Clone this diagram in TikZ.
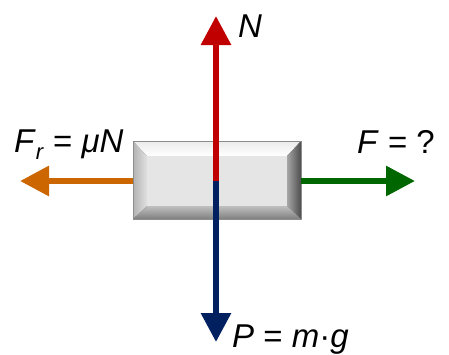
\documentclass[tikz,border=0pt]{standalone}
\usepackage{fontspec}
\setmainfont{Liberation Sans}
\usetikzlibrary{arrows.meta}
\definecolor{redN}{HTML}{C00000}
\definecolor{blueP}{HTML}{002060}
\definecolor{orangeF}{HTML}{CC6600}
\definecolor{greenF}{HTML}{006600}
\begin{document}
\begin{tikzpicture}[x=1pt,y=-1pt,
  force/.style={line width=6pt,-{Triangle[length=29pt,width=29pt]}},
  lbl/.style={font=\fontsize{33}{36}\selectfont, anchor=base west, inner sep=0pt}]
\useasboundingbox (0,0) rectangle (449,354);
% block
\node[minimum width=168pt, minimum height=78pt, inner sep=0pt] (box) at (217,180) {};
\coordinate (o1) at (133,141); \coordinate (o2) at (301,141);
\coordinate (o3) at (301,219); \coordinate (o4) at (133,219);
\coordinate (i1) at (147,156); \coordinate (i2) at (287,156);
\coordinate (i3) at (287,206); \coordinate (i4) at (147,206);
\fill[black!75] (o1) rectangle (o3);
\shade[top color=white!92!black, bottom color=white] (o1) -- (o2) -- (i2) -- (i1) -- cycle;
\shade[left color=black!30, right color=black!12] (o1) -- (i1) -- (i4) -- (o4) -- cycle;
\shade[left color=black!35, right color=black!70] (o2) -- (o3) -- (i3) -- (i2) -- cycle;
\shade[top color=black!25, bottom color=black!50] (i4) -- (i3) -- (o3) -- (o4) -- cycle;
\fill[black!10] (i1) rectangle (i3);
\draw[black!45, line width=0.5pt] (o1) rectangle (o3);
% forces
\coordinate (c) at (216,181);
\coordinate (ntip) at (216,16);
\coordinate (ptip) at (216,342);
\coordinate (frtip) at (20,181);
\coordinate (ftip) at (415,181);
\draw[force,redN] (c) -- (ntip);
\draw[force,blueP] (c) -- (ptip);
\draw[force,orangeF] (box.west |- c) -- (frtip);
\draw[force,greenF] (box.east |- c) -- (ftip);
% labels
\node[lbl] (nlab) at (238,37) {\textit{N}};
\node[lbl] (frlab) at (14,152) {\textit{F}\raisebox{-7pt}{\fontsize{22}{24}\selectfont\textit{r}} = \textit{μN}};
\node[lbl] (flab) at (357,153) {\textit{F} = ?};
\node[lbl] (plab) at (232,347) {\textit{P} = \textit{m}·\textit{g}};
\end{tikzpicture}
\end{document}
